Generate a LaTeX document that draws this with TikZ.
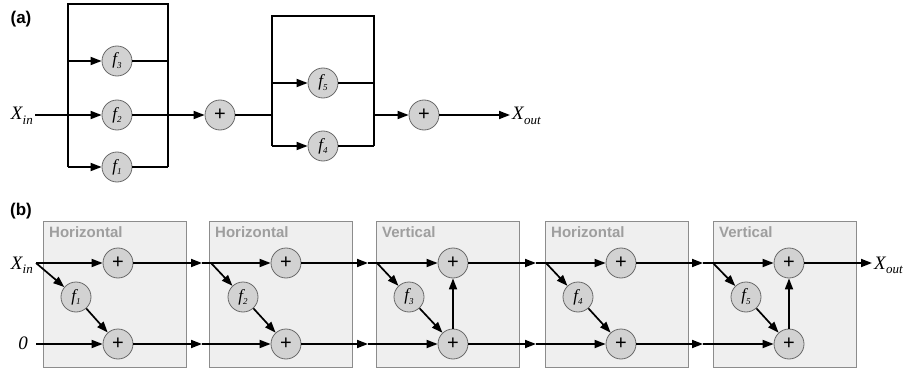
\documentclass[tikz,border=0pt]{standalone}
\usepackage{fontspec}
\setmainfont{Liberation Serif}
\setsansfont{Liberation Sans}
\usetikzlibrary{arrows.meta}
\definecolor{boxfill}{RGB}{239,239,239}
\definecolor{boxline}{RGB}{140,140,140}
\definecolor{boxtext}{RGB}{158,158,158}
\definecolor{cfill}{RGB}{210,210,210}
\definecolor{cline}{RGB}{105,105,105}
\newcommand{\fl}[2]{{\itshape #1\kern0.2pt\raisebox{-0.5ex}{\fontsize{9}{9}\selectfont #2}}}
\newcommand{\xl}[2]{{\itshape #1\kern0.3pt\raisebox{-0.55ex}{\fontsize{13}{13}\selectfont #2}}}
\begin{document}
\begin{tikzpicture}[x=1pt,y=-1pt,
  wire/.style={line width=1.7pt,black},
  arr/.style={wire,-{Triangle[length=11pt,width=8pt]}},
  fn/.style={circle,draw=cline,fill=cfill,line width=0.8pt,minimum size=30pt,inner sep=0pt,font=\fontsize{17}{17}\selectfont},
  sumnode/.style={fn,font=\sffamily\fontsize{20}{20}\selectfont},
  stage/.style={draw=boxline,fill=boxfill,line width=0.9pt,anchor=north west,minimum width=143pt,minimum height=146pt,inner sep=0pt},
  stagelab/.style={anchor=west,text=boxtext,font=\sffamily\bfseries\fontsize{15}{15}\selectfont,inner sep=0pt},
  io/.style={inner sep=0pt,font=\fontsize{19}{19}\selectfont},
  panel/.style={font=\sffamily\bfseries\fontsize{17}{17}\selectfont,inner sep=0pt}]
\useasboundingbox (0,0) rectangle (906,369);

% ---------------- (a) ----------------
\node[panel] (la) at (21,19) {(a)};
\node[io,anchor=base east] (xa) at (33,120) {\xl{X}{in}};
\coordinate (ain) at (35,115);
\coordinate (LTL) at (68,4);   \coordinate (LTR) at (168,4);
\coordinate (L3l) at (68,61);  \coordinate (L3r) at (168,61);
\coordinate (L2l) at (68,115); \coordinate (L2r) at (168,115);
\coordinate (LBL) at (68,167); \coordinate (LBR) at (168,167);
\node[fn] (f3) at (117,61) {\fl{f}{3}};
\node[fn] (f2) at (117,115) {\fl{f}{2}};
\node[fn] (f1) at (117,167) {\fl{f}{1}};
\draw[wire] (ain) -- (L2l);
\draw[wire] (LBL) -- (LTL) -- (LTR) -- (LBR);
\draw[arr] (L3l) -- (f3);
\draw[arr] (L2l) -- (f2);
\draw[arr] (LBL) -- (f1);
\draw[wire] (f3) -- (L3r);
\draw[wire] (f2) -- (L2r);
\draw[wire] (f1) -- (LBR);
\node[sumnode] (sa1) at (220,115) {+};
\draw[arr] (L2r) -- (sa1);
\coordinate (RTL) at (272,16);  \coordinate (RTR) at (374,16);
\coordinate (R5l) at (272,83);  \coordinate (R5r) at (374,83);
\coordinate (RMl) at (272,115); \coordinate (RMr) at (374,115);
\coordinate (RBL) at (272,146); \coordinate (RBR) at (374,146);
\node[fn] (f5) at (323,83) {\fl{f}{5}};
\node[fn] (f4) at (323,146) {\fl{f}{4}};
\draw[wire] (sa1) -- (RMl);
\draw[wire] (RBL) -- (RTL) -- (RTR) -- (RBR);
\draw[arr] (R5l) -- (f5);
\draw[arr] (RBL) -- (f4);
\draw[wire] (f5) -- (R5r);
\draw[wire] (f4) -- (RBR);
\node[sumnode] (sa2) at (424,115) {+};
\draw[arr] (RMr) -- (sa2);
\coordinate (aout) at (510,115);
\node[io,anchor=base west] (xao) at (512,120) {\xl{X}{out}};
\draw[arr] (sa2) -- (aout);

% ---------------- (b) ----------------
\node[panel] (lb) at (21,211) {(b)};
\node[stage] (B1) at (43,221) {};
\node[stage] (B2) at (209,221) {};
\node[stage] (B3) at (376,221) {};
\node[stage] (B4) at (545,221) {};
\node[stage] (B5) at (713,221) {};
\node[stagelab] (T1) at (49,232) {Horizontal};
\node[stagelab] (T2) at (215,232) {Horizontal};
\node[stagelab] (T3) at (382,232) {Vertical};
\node[stagelab] (T4) at (551,232) {Horizontal};
\node[stagelab] (T5) at (719,232) {Vertical};

\node[io,anchor=base east] (xb) at (33,269) {\xl{X}{in}};
\node[io,anchor=base east] (zb) at (28,349) {\itshape 0};
\coordinate (s1) at (36,263);
\coordinate (z1) at (36,344);
\coordinate (at2) at (202,263); \coordinate (s2) at (211,263); \coordinate (ab2) at (202,344);
\coordinate (at3) at (368,263); \coordinate (s3) at (377,263); \coordinate (ab3) at (368,344);
\coordinate (at4) at (536,263); \coordinate (s4) at (546,263); \coordinate (ab4) at (536,344);
\coordinate (at5) at (703,263); \coordinate (s5) at (713,263); \coordinate (ab5) at (703,344);
\coordinate (bout) at (872,263);

\node[fn] (g1) at (76,297) {\fl{f}{1}};
\node[fn] (g2) at (243,297) {\fl{f}{2}};
\node[fn] (g3) at (409,297) {\fl{f}{3}};
\node[fn] (g4) at (578,297) {\fl{f}{4}};
\node[fn] (g5) at (746,297) {\fl{f}{5}};
\node[sumnode] (pt1) at (118,263) {+};  \node[sumnode] (pb1) at (118,344) {+};
\node[sumnode] (pt2) at (286,263) {+};  \node[sumnode] (pb2) at (286,344) {+};
\node[sumnode] (pt3) at (453,263) {+};  \node[sumnode] (pb3) at (453,344) {+};
\node[sumnode] (pt4) at (621,263) {+};  \node[sumnode] (pb4) at (621,344) {+};
\node[sumnode] (pt5) at (789,263) {+};  \node[sumnode] (pb5) at (789,344) {+};

% stage 1
\draw[arr] (s1) -- (pt1);
\draw[arr] (s1) -- (g1);
\draw[arr] (g1) -- (pb1);
\draw[arr] (z1) -- (pb1);
% stage 2
\draw[arr] (pt1) -- (at2);
\draw[arr] (at2) -- (pt2);
\draw[arr] (s2) -- (g2);
\draw[arr] (g2) -- (pb2);
\draw[arr] (pb1) -- (ab2);
\draw[arr] (ab2) -- (pb2);
% stage 3
\draw[arr] (pt2) -- (at3);
\draw[arr] (at3) -- (pt3);
\draw[arr] (s3) -- (g3);
\draw[arr] (g3) -- (pb3);
\draw[arr] (pb2) -- (ab3);
\draw[arr] (ab3) -- (pb3);
\draw[arr] (pb3) -- (pt3);
% stage 4
\draw[arr] (pt3) -- (at4);
\draw[arr] (at4) -- (pt4);
\draw[arr] (s4) -- (g4);
\draw[arr] (g4) -- (pb4);
\draw[arr] (pb3) -- (ab4);
\draw[arr] (ab4) -- (pb4);
% stage 5
\draw[arr] (pt4) -- (at5);
\draw[arr] (at5) -- (pt5);
\draw[arr] (s5) -- (g5);
\draw[arr] (g5) -- (pb5);
\draw[arr] (pb4) -- (ab5);
\draw[arr] (ab5) -- (pb5);
\draw[arr] (pb5) -- (pt5);
% output
\draw[arr] (pt5) -- (bout);
\node[io,anchor=base west] (xbo) at (874,269) {\xl{X}{out}};
\end{tikzpicture}
\end{document}
